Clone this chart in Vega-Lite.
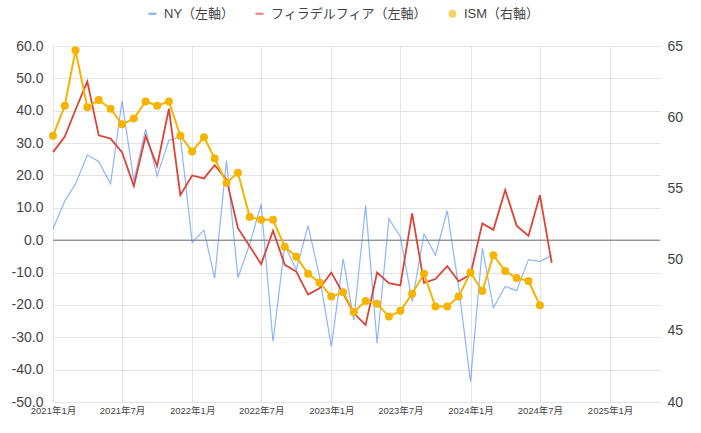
{
  "$schema": "https://vega.github.io/schema/vega-lite/v6.json",
  "width": 607,
  "height": 356,
  "autosize": {"type": "none"},
  "padding": {"left": 53, "top": 46, "right": 41, "bottom": 31},
  "config": {
    "font": "Arial, Liberation Sans, Noto Sans CJK JP",
    "view": {"stroke": null},
    "axis": {"ticks": false, "domain": false, "title": null, "gridColor": "#e3e3e3", "labelColor": "#444", "labelOverlap": false}
  },
  "data": {"values": [
    {"d": "2021/01/01", "s": "NY（左軸）", "v": 3.5}, {"d": "2021/02/01", "s": "NY（左軸）", "v": 12.1},
    {"d": "2021/03/01", "s": "NY（左軸）", "v": 17.4}, {"d": "2021/04/01", "s": "NY（左軸）", "v": 26.3},
    {"d": "2021/05/01", "s": "NY（左軸）", "v": 24.3}, {"d": "2021/06/01", "s": "NY（左軸）", "v": 17.4},
    {"d": "2021/07/01", "s": "NY（左軸）", "v": 43.0}, {"d": "2021/08/01", "s": "NY（左軸）", "v": 18.3},
    {"d": "2021/09/01", "s": "NY（左軸）", "v": 34.3}, {"d": "2021/10/01", "s": "NY（左軸）", "v": 19.8},
    {"d": "2021/11/01", "s": "NY（左軸）", "v": 30.9}, {"d": "2021/12/01", "s": "NY（左軸）", "v": 31.9},
    {"d": "2022/01/01", "s": "NY（左軸）", "v": -0.7}, {"d": "2022/02/01", "s": "NY（左軸）", "v": 3.1},
    {"d": "2022/03/01", "s": "NY（左軸）", "v": -11.8}, {"d": "2022/04/01", "s": "NY（左軸）", "v": 24.6},
    {"d": "2022/05/01", "s": "NY（左軸）", "v": -11.6}, {"d": "2022/06/01", "s": "NY（左軸）", "v": -1.2},
    {"d": "2022/07/01", "s": "NY（左軸）", "v": 11.1}, {"d": "2022/08/01", "s": "NY（左軸）", "v": -31.3},
    {"d": "2022/09/01", "s": "NY（左軸）", "v": -1.5}, {"d": "2022/10/01", "s": "NY（左軸）", "v": -9.1},
    {"d": "2022/11/01", "s": "NY（左軸）", "v": 4.5}, {"d": "2022/12/01", "s": "NY（左軸）", "v": -11.2},
    {"d": "2023/01/01", "s": "NY（左軸）", "v": -32.9}, {"d": "2023/02/01", "s": "NY（左軸）", "v": -5.8},
    {"d": "2023/03/01", "s": "NY（左軸）", "v": -24.6}, {"d": "2023/04/01", "s": "NY（左軸）", "v": 10.8},
    {"d": "2023/05/01", "s": "NY（左軸）", "v": -31.8}, {"d": "2023/06/01", "s": "NY（左軸）", "v": 6.6},
    {"d": "2023/07/01", "s": "NY（左軸）", "v": 1.1}, {"d": "2023/08/01", "s": "NY（左軸）", "v": -19.0},
    {"d": "2023/09/01", "s": "NY（左軸）", "v": 1.9}, {"d": "2023/10/01", "s": "NY（左軸）", "v": -4.6},
    {"d": "2023/11/01", "s": "NY（左軸）", "v": 9.1}, {"d": "2023/12/01", "s": "NY（左軸）", "v": -14.5},
    {"d": "2024/01/01", "s": "NY（左軸）", "v": -43.7}, {"d": "2024/02/01", "s": "NY（左軸）", "v": -2.4},
    {"d": "2024/03/01", "s": "NY（左軸）", "v": -20.9}, {"d": "2024/04/01", "s": "NY（左軸）", "v": -14.3},
    {"d": "2024/05/01", "s": "NY（左軸）", "v": -15.6}, {"d": "2024/06/01", "s": "NY（左軸）", "v": -6.0},
    {"d": "2024/07/01", "s": "NY（左軸）", "v": -6.6}, {"d": "2024/08/01", "s": "NY（左軸）", "v": -4.7},

    {"d": "2021/01/01", "s": "フィラデルフィア（左軸）", "v": 27.2}, {"d": "2021/02/01", "s": "フィラデルフィア（左軸）", "v": 32.0},
    {"d": "2021/03/01", "s": "フィラデルフィア（左軸）", "v": 40.3}, {"d": "2021/04/01", "s": "フィラデルフィア（左軸）", "v": 49.0},
    {"d": "2021/05/01", "s": "フィラデルフィア（左軸）", "v": 32.4}, {"d": "2021/06/01", "s": "フィラデルフィア（左軸）", "v": 31.4},
    {"d": "2021/07/01", "s": "フィラデルフィア（左軸）", "v": 27.2}, {"d": "2021/08/01", "s": "フィラデルフィア（左軸）", "v": 16.7},
    {"d": "2021/09/01", "s": "フィラデルフィア（左軸）", "v": 32.2}, {"d": "2021/10/01", "s": "フィラデルフィア（左軸）", "v": 22.9},
    {"d": "2021/11/01", "s": "フィラデルフィア（左軸）", "v": 40.6}, {"d": "2021/12/01", "s": "フィラデルフィア（左軸）", "v": 13.9},
    {"d": "2022/01/01", "s": "フィラデルフィア（左軸）", "v": 20.0}, {"d": "2022/02/01", "s": "フィラデルフィア（左軸）", "v": 19.1},
    {"d": "2022/03/01", "s": "フィラデルフィア（左軸）", "v": 23.2}, {"d": "2022/04/01", "s": "フィラデルフィア（左軸）", "v": 18.8},
    {"d": "2022/05/01", "s": "フィラデルフィア（左軸）", "v": 3.7}, {"d": "2022/06/01", "s": "フィラデルフィア（左軸）", "v": -1.9},
    {"d": "2022/07/01", "s": "フィラデルフィア（左軸）", "v": -7.4}, {"d": "2022/08/01", "s": "フィラデルフィア（左軸）", "v": 2.9},
    {"d": "2022/09/01", "s": "フィラデルフィア（左軸）", "v": -7.6}, {"d": "2022/10/01", "s": "フィラデルフィア（左軸）", "v": -9.7},
    {"d": "2022/11/01", "s": "フィラデルフィア（左軸）", "v": -16.8}, {"d": "2022/12/01", "s": "フィラデルフィア（左軸）", "v": -14.9},
    {"d": "2023/01/01", "s": "フィラデルフィア（左軸）", "v": -10.0}, {"d": "2023/02/01", "s": "フィラデルフィア（左軸）", "v": -16.5},
    {"d": "2023/03/01", "s": "フィラデルフィア（左軸）", "v": -22.6}, {"d": "2023/04/01", "s": "フィラデルフィア（左軸）", "v": -26.2},
    {"d": "2023/05/01", "s": "フィラデルフィア（左軸）", "v": -10.0}, {"d": "2023/06/01", "s": "フィラデルフィア（左軸）", "v": -13.3},
    {"d": "2023/07/01", "s": "フィラデルフィア（左軸）", "v": -14.0}, {"d": "2023/08/01", "s": "フィラデルフィア（左軸）", "v": 8.3},
    {"d": "2023/09/01", "s": "フィラデルフィア（左軸）", "v": -13.2}, {"d": "2023/10/01", "s": "フィラデルフィア（左軸）", "v": -12.0},
    {"d": "2023/11/01", "s": "フィラデルフィア（左軸）", "v": -8.0}, {"d": "2023/12/01", "s": "フィラデルフィア（左軸）", "v": -12.7},
    {"d": "2024/01/01", "s": "フィラデルフィア（左軸）", "v": -10.6}, {"d": "2024/02/01", "s": "フィラデルフィア（左軸）", "v": 5.2},
    {"d": "2024/03/01", "s": "フィラデルフィア（左軸）", "v": 3.2}, {"d": "2024/04/01", "s": "フィラデルフィア（左軸）", "v": 15.5},
    {"d": "2024/05/01", "s": "フィラデルフィア（左軸）", "v": 4.5}, {"d": "2024/06/01", "s": "フィラデルフィア（左軸）", "v": 1.3},
    {"d": "2024/07/01", "s": "フィラデルフィア（左軸）", "v": 13.9}, {"d": "2024/08/01", "s": "フィラデルフィア（左軸）", "v": -7.0},

    {"d": "2021/01/01", "s": "ISM（右軸）", "v": 58.7}, {"d": "2021/02/01", "s": "ISM（右軸）", "v": 60.8},
    {"d": "2021/03/01", "s": "ISM（右軸）", "v": 64.7}, {"d": "2021/04/01", "s": "ISM（右軸）", "v": 60.7},
    {"d": "2021/05/01", "s": "ISM（右軸）", "v": 61.2}, {"d": "2021/06/01", "s": "ISM（右軸）", "v": 60.6},
    {"d": "2021/07/01", "s": "ISM（右軸）", "v": 59.5}, {"d": "2021/08/01", "s": "ISM（右軸）", "v": 59.9},
    {"d": "2021/09/01", "s": "ISM（右軸）", "v": 61.1}, {"d": "2021/10/01", "s": "ISM（右軸）", "v": 60.8},
    {"d": "2021/11/01", "s": "ISM（右軸）", "v": 61.1}, {"d": "2021/12/01", "s": "ISM（右軸）", "v": 58.7},
    {"d": "2022/01/01", "s": "ISM（右軸）", "v": 57.6}, {"d": "2022/02/01", "s": "ISM（右軸）", "v": 58.6},
    {"d": "2022/03/01", "s": "ISM（右軸）", "v": 57.1}, {"d": "2022/04/01", "s": "ISM（右軸）", "v": 55.4},
    {"d": "2022/05/01", "s": "ISM（右軸）", "v": 56.1}, {"d": "2022/06/01", "s": "ISM（右軸）", "v": 53.0},
    {"d": "2022/07/01", "s": "ISM（右軸）", "v": 52.8}, {"d": "2022/08/01", "s": "ISM（右軸）", "v": 52.8},
    {"d": "2022/09/01", "s": "ISM（右軸）", "v": 50.9}, {"d": "2022/10/01", "s": "ISM（右軸）", "v": 50.2},
    {"d": "2022/11/01", "s": "ISM（右軸）", "v": 49.0}, {"d": "2022/12/01", "s": "ISM（右軸）", "v": 48.4},
    {"d": "2023/01/01", "s": "ISM（右軸）", "v": 47.4}, {"d": "2023/02/01", "s": "ISM（右軸）", "v": 47.7},
    {"d": "2023/03/01", "s": "ISM（右軸）", "v": 46.3}, {"d": "2023/04/01", "s": "ISM（右軸）", "v": 47.1},
    {"d": "2023/05/01", "s": "ISM（右軸）", "v": 46.9}, {"d": "2023/06/01", "s": "ISM（右軸）", "v": 46.0},
    {"d": "2023/07/01", "s": "ISM（右軸）", "v": 46.4}, {"d": "2023/08/01", "s": "ISM（右軸）", "v": 47.6},
    {"d": "2023/09/01", "s": "ISM（右軸）", "v": 49.0}, {"d": "2023/10/01", "s": "ISM（右軸）", "v": 46.7},
    {"d": "2023/11/01", "s": "ISM（右軸）", "v": 46.7}, {"d": "2023/12/01", "s": "ISM（右軸）", "v": 47.4},
    {"d": "2024/01/01", "s": "ISM（右軸）", "v": 49.1}, {"d": "2024/02/01", "s": "ISM（右軸）", "v": 47.8},
    {"d": "2024/03/01", "s": "ISM（右軸）", "v": 50.3}, {"d": "2024/04/01", "s": "ISM（右軸）", "v": 49.2},
    {"d": "2024/05/01", "s": "ISM（右軸）", "v": 48.7}, {"d": "2024/06/01", "s": "ISM（右軸）", "v": 48.5},
    {"d": "2024/07/01", "s": "ISM（右軸）", "v": 46.8}
  ]},
  "encoding": {
    "x": {
      "field": "d", "type": "temporal",
      "scale": {"domain": [{"year": 2021, "month": 1, "date": 1}, {"year": 2025, "month": 5, "date": 12}]},
      "axis": {
        "values": [
          {"year": 2021, "month": 1, "date": 1}, {"year": 2021, "month": 7, "date": 1},
          {"year": 2022, "month": 1, "date": 1}, {"year": 2022, "month": 7, "date": 1},
          {"year": 2023, "month": 1, "date": 1}, {"year": 2023, "month": 7, "date": 1},
          {"year": 2024, "month": 1, "date": 1}, {"year": 2024, "month": 7, "date": 1},
          {"year": 2025, "month": 1, "date": 1}
        ],
        "tickCount": 20,
        "labelExpr": "timeFormat(datum.value, '%Y') + '年' + (month(datum.value) + 1) + '月'",
        "labelFontSize": 9.5, "labelPadding": 3, "labelFlush": false, "labelOverlap": false, "grid": true
      }
    },
    "color": {
      "field": "s", "type": "nominal",
      "scale": {"domain": ["NY（左軸）", "フィラデルフィア（左軸）", "ISM（右軸）"], "range": ["#4285F4", "#DB4437", "#F4B400"]},
      "legend": {
        "title": null, "orient": "none", "direction": "horizontal", "legendX": 93, "legendY": -39,
        "labelFontSize": 13, "labelColor": "#444", "symbolSize": 64, "labelOffset": 5, "columnPadding": 18,
        "symbolStrokeWidth": 0
      }
    }
  },
  "layer": [
    {
      "layer": [
        {
          "data": {"values": [{"z": 0}]},
          "mark": {"type": "rule", "color": "#6f6f6f", "strokeWidth": 1},
          "encoding": {
            "y": {
              "field": "z", "type": "quantitative",
              "scale": {"domain": [-50, 60], "nice": false, "zero": false},
              "axis": {
                "orient": "left", "values": [-50, -40, -30, -20, -10, 0, 10, 20, 30, 40, 50, 60], "tickCount": 20,
                "labelExpr": "replace(format(datum.value, '.1f'), '\u2212', '-')",
                "labelFontSize": 14, "labelPadding": 10, "grid": true, "labelOverlap": false
              }
            },
            "x": null, "color": null
          }
        },
        {
          "transform": [{"filter": "datum.s === 'NY（左軸）'"}],
          "mark": {"type": "line", "strokeWidth": 1.2, "opacity": 0.6},
          "encoding": {"y": {"field": "v", "type": "quantitative"}}
        },
        {
          "transform": [{"filter": "datum.s === 'フィラデルフィア（左軸）'"}],
          "mark": {"type": "line", "strokeWidth": 1.8},
          "encoding": {"y": {"field": "v", "type": "quantitative"}}
        }
      ]
    },
    {
      "transform": [{"filter": "datum.s === 'ISM（右軸）'"}],
      "encoding": {
        "y": {
          "field": "v", "type": "quantitative",
          "scale": {"domain": [40, 65], "nice": false, "zero": false},
          "axis": {"orient": "right", "values": [40, 45, 50, 55, 60, 65], "tickCount": 20, "format": "d", "labelFontSize": 14, "labelPadding": 7, "grid": false, "labelOverlap": false}
        }
      },
      "layer": [
        {"mark": {"type": "line", "strokeWidth": 2}},
        {
          "mark": {"type": "point", "filled": true, "opacity": 1, "size": 64},
          "encoding": {
            "shape": {
              "field": "s", "type": "nominal",
              "scale": {"domain": ["NY（左軸）", "フィラデルフィア（左軸）", "ISM（右軸）"], "range": ["M-1,-0.3H1V0.3H-1Z", "M-1,-0.3H1V0.3H-1Z", "circle"]},
              "legend": {
                "title": null, "orient": "none", "direction": "horizontal", "legendX": 93, "legendY": -39,
                "labelFontSize": 13, "labelColor": "#444", "symbolSize": 64, "labelOffset": 5, "columnPadding": 18,
                "symbolStrokeWidth": 0
              }
            }
          }
        }
      ]
    }
  ],
  "resolve": {"scale": {"y": "independent"}}
}
